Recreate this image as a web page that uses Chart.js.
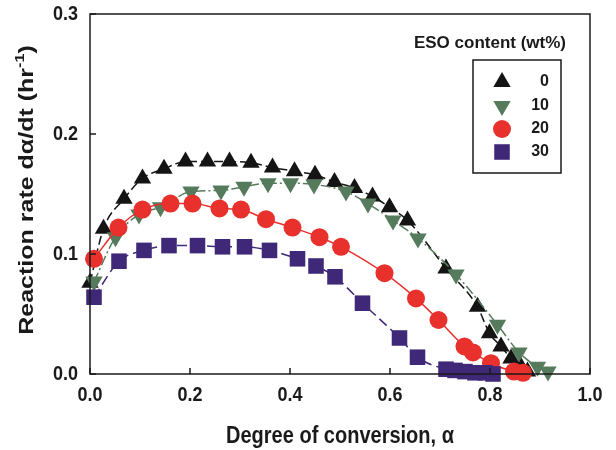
<!DOCTYPE html>
<html lang="en">
<head>
<meta charset="UTF-8">
<title>Reaction rate vs degree of conversion</title>
<script src="https://cdn.jsdelivr.net/npm/chart.js"></script>
<style>
  body { margin: 0; background: #fff; }
</style>
</head>
<body>
<canvas id="rateChart" width="616" height="450"></canvas>
<script>
// ESO content (wt%) of each series
const esoLevels = ['0', '10', '20', '30'];

// degree of conversion (alpha) and reaction rate (1/hr) for each ESO level
const conv0 = [0.0, 0.027, 0.068, 0.105, 0.148, 0.191, 0.235, 0.279, 0.322, 0.365, 0.409, 0.45, 0.489, 0.529, 0.565, 0.599, 0.635, 0.712, 0.775, 0.799, 0.822, 0.842, 0.862, 0.875];
const rate0 = [0.076, 0.121, 0.146, 0.163, 0.171, 0.177, 0.177, 0.177, 0.176, 0.172, 0.169, 0.166, 0.160, 0.155, 0.148, 0.139, 0.128, 0.088, 0.056, 0.034, 0.023, 0.013, 0.006, 0.002];

const conv10 = [0.008, 0.051, 0.098, 0.141, 0.202, 0.262, 0.308, 0.356, 0.401, 0.448, 0.512, 0.556, 0.606, 0.656, 0.732, 0.815, 0.858, 0.895, 0.916];
const rate10 = [0.077, 0.114, 0.133, 0.139, 0.152, 0.153, 0.156, 0.159, 0.159, 0.158, 0.152, 0.142, 0.128, 0.113, 0.083, 0.041, 0.018, 0.006, 0.002];

const conv20 = [0.008, 0.057, 0.105, 0.161, 0.205, 0.259, 0.302, 0.352, 0.405, 0.459, 0.502, 0.589, 0.652, 0.697, 0.749, 0.766, 0.802, 0.848, 0.866];
const rate20 = [0.096, 0.122, 0.137, 0.142, 0.142, 0.138, 0.137, 0.129, 0.122, 0.114, 0.106, 0.084, 0.063, 0.045, 0.023, 0.018, 0.009, 0.002, 0.001];

const conv30 = [0.008, 0.058, 0.108, 0.158, 0.215, 0.265, 0.309, 0.359, 0.415, 0.452, 0.49, 0.545, 0.619, 0.655, 0.712, 0.73, 0.75, 0.77, 0.79, 0.806];
const rate30 = [0.064, 0.094, 0.103, 0.107, 0.107, 0.106, 0.106, 0.103, 0.096, 0.090, 0.081, 0.059, 0.030, 0.014, 0.004, 0.003, 0.002, 0.001, 0.001, 0.0];

const xTicks = [0, 0.2, 0.4, 0.6, 0.8, 1.0];
const yTicks = [0, 0.1, 0.2, 0.3];

const FONT = '"Liberation Sans", Arial, sans-serif';

function pairs(xs, ys) {
  return xs.map((x, i) => ({ x: x, y: ys[i] }));
}

const styles = [
  { color: '#141414', point: 'triangle', rot: 0,   r: 10,  dash: [9, 4],        order: 3 },
  { color: '#557a5c', point: 'triangle', rot: 180, r: 10,  dash: [10, 3, 2, 3], order: 2 },
  { color: '#e8302c', point: 'circle',   rot: 0,   r: 9,   dash: [],            order: 1 },
  { color: '#3f2878', point: 'rect',     rot: 0,   r: 11,  dash: [10, 5],       order: 0 }
];
const series = [pairs(conv0, rate0), pairs(conv10, rate10), pairs(conv20, rate20), pairs(conv30, rate30)];

const datasets = series.map((pts, i) => ({
  label: esoLevels[i],
  data: pts,
  showLine: true,
  tension: 0.4,
  cubicInterpolationMode: 'monotone',
  borderColor: styles[i].color,
  borderWidth: 1.5,
  borderDash: styles[i].dash,
  backgroundColor: styles[i].color,
  pointBackgroundColor: styles[i].color,
  pointBorderWidth: 0,
  pointStyle: styles[i].point,
  rotation: styles[i].rot,
  pointRadius: styles[i].r,
  pointHoverRadius: styles[i].r,
  order: styles[i].order,
  clip: false
}));

// text drawn with an optional vertical stretch
function stretchText(ctx, text, x, y, sy, align) {
  ctx.save();
  ctx.translate(x, y);
  ctx.scale(1, sy);
  ctx.textAlign = align;
  ctx.textBaseline = 'middle';
  ctx.fillText(text, 0, 0);
  ctx.restore();
}

const frameAndLabels = {
  id: 'frameAndLabels',
  afterDraw(chart) {
    const ctx = chart.ctx;
    const a = chart.chartArea;
    const xs = chart.scales.x, ys = chart.scales.y;
    ctx.save();

    // plot frame
    ctx.strokeStyle = '#1a1a1a';
    ctx.lineWidth = 1.5;
    ctx.strokeRect(a.left, a.top, a.right - a.left, a.bottom - a.top);

    // inward ticks
    ctx.beginPath();
    xTicks.forEach(v => {
      const px = xs.getPixelForValue(v);
      ctx.moveTo(px, a.bottom);
      ctx.lineTo(px, a.bottom - 6);
    });
    yTicks.forEach(v => {
      const py = ys.getPixelForValue(v);
      ctx.moveTo(a.left, py);
      ctx.lineTo(a.left + 6, py);
    });
    ctx.stroke();

    // tick labels
    ctx.fillStyle = '#1a1a1a';
    ctx.font = 'bold 18px ' + FONT;
    xTicks.forEach(v => {
      stretchText(ctx, v.toFixed(1), xs.getPixelForValue(v), a.bottom + 21, 1.15, 'center');
    });
    yTicks.forEach(v => {
      stretchText(ctx, v.toFixed(1), a.left - 12, ys.getPixelForValue(v), 1.15, 'right');
    });

    // x axis title
    ctx.font = 'bold 20px ' + FONT;
    stretchText(ctx, 'Degree of conversion, \u03b1', (a.left + a.right) / 2, 437, 1.15, 'center');

    // y axis title with superscript
    ctx.save();
    ctx.translate(27, (a.top + a.bottom) / 2 - 4);
    ctx.rotate(-Math.PI / 2);
    ctx.scale(1.25, 1);
    const main = 'Reaction rate d\u03b1/dt (hr';
    ctx.font = 'bold 20px ' + FONT;
    const wMain = ctx.measureText(main).width;
    ctx.font = 'bold 13px ' + FONT;
    const wSup = ctx.measureText('-1').width;
    ctx.font = 'bold 20px ' + FONT;
    const wEnd = ctx.measureText(')').width;
    let x0 = -(wMain + wSup + wEnd) / 2;
    ctx.textAlign = 'left';
    ctx.textBaseline = 'middle';
    ctx.fillText(main, x0, 0);
    ctx.font = 'bold 13px ' + FONT;
    ctx.fillText('-1', x0 + wMain, -7);
    ctx.font = 'bold 20px ' + FONT;
    ctx.fillText(')', x0 + wMain + wSup, 0);
    ctx.restore();

    // legend
    ctx.font = 'bold 17px ' + FONT;
    stretchText(ctx, 'ESO content (wt%)', 566, 43, 1.0, 'right');
    ctx.lineWidth = 1.5;
    ctx.strokeRect(473, 60, 88, 113);
    const rowY = [82, 106, 129, 152];
    esoLevels.forEach((lab, i) => {
      const s = styles[i];
      ctx.fillStyle = s.color;
      Chart.helpers.drawPoint(ctx, { pointStyle: s.point, rotation: s.rot, radius: s.r, borderWidth: 0 }, 502, rowY[i]);
      ctx.fillStyle = '#1a1a1a';
      ctx.font = 'bold 16px ' + FONT;
      stretchText(ctx, lab, 549, rowY[i], 1.0, 'right');
    });

    ctx.restore();
  }
};

new Chart(document.getElementById('rateChart'), {
  type: 'scatter',
  data: { datasets: datasets },
  options: {
    responsive: false,
    animation: false,
    layout: { padding: { top: 14, right: 26, left: 0, bottom: 0 } },
    plugins: { legend: { display: false }, tooltip: { enabled: false } },
    scales: {
      x: {
        type: 'linear', min: 0, max: 1,
        grid: { display: false }, border: { display: false },
        ticks: { display: false, stepSize: 0.2 },
        afterFit(s) { s.height = 76; }
      },
      y: {
        type: 'linear', min: 0, max: 0.3,
        grid: { display: false }, border: { display: false },
        ticks: { display: false, stepSize: 0.1 },
        afterFit(s) { s.width = 90; }
      }
    }
  },
  plugins: [frameAndLabels]
});
</script>
</body>
</html>
